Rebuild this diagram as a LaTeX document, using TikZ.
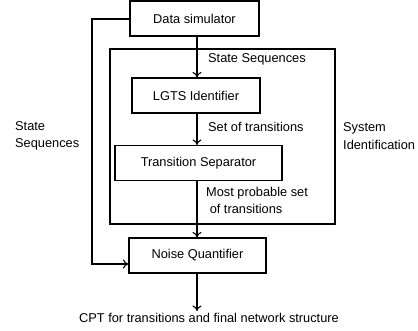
\documentclass[tikz,border=0pt]{standalone}
\usepackage{fontspec}
\setmainfont{Liberation Sans}
\usetikzlibrary{arrows.meta}
\begin{document}
\begin{tikzpicture}[x=1pt,y=-1pt,
  txt/.style={font=\fontsize{12.8}{17.5}\selectfont},
  blk/.style={draw,line width=1.1pt,minimum height=35pt,inner sep=0pt,txt},
  lbl/.style={anchor=west,inner sep=0pt,align=left,txt},
  flow/.style={line width=1.1pt,-{To[length=5.5pt,width=9pt]}}]
\useasboundingbox (0,0) rectangle (418,330);
% outer system identification frame
\draw[line width=1.1pt] (110,49) rectangle (335,224);
% processing blocks
\node[blk,minimum width=129pt] (sim) at (194.5,18.5) {Data simulator};
\node[blk,minimum width=128pt] (lgts) at (196,95.5) {LGTS Identifier};
\node[blk,minimum width=167pt] (sep) at (198.5,163) {Transition Separator};
\node[blk,minimum width=137pt] (noise) at (197.5,255.5) {Noise Quantifier};
\node[lbl,anchor=center] (cpt) at (209,318) {CPT for transitions and final network structure};
\coordinate (bypass) at (92,19);
% connectors
\draw[flow] (sim.south -| 197,0) -- (lgts.north -| 197,0);
\draw[flow] (lgts.south -| 197,0) -- (sep.north -| 197,0);
\draw[flow] (sep.south -| 197,0) -- (noise.north -| 197,0);
\draw[flow] (noise.south -| 197,0) -- (197,311);
\draw[flow] (sim.west |- bypass) -- (bypass) |- (noise.west |- 0,264);
% labels
\node[lbl] (l1) at (208,59) {State Sequences};
\node[lbl] (l2) at (208,127) {Set of transitions};
\node[lbl] (l3) at (206,200.5) {Most probable set\\\ of transitions};
\node[lbl] (l4) at (15,136) {State\\Sequences};
\node[lbl] (l5) at (343,136) {System\\Identification};
\end{tikzpicture}
\end{document}
